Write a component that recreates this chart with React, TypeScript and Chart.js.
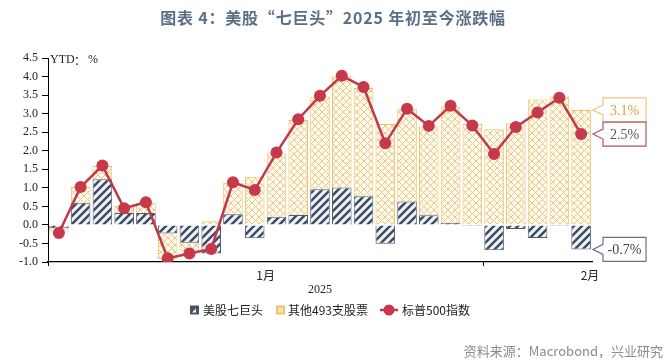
import React, { useEffect, useRef } from 'react';
import { Chart, registerables } from 'chart.js';

Chart.register(...registerables);

// Trading days (2025-01-02 … 2025-02-07)
const categories = [
  '2025-01-02', '2025-01-03', '2025-01-06', '2025-01-07', '2025-01-08', '2025-01-10',
  '2025-01-13', '2025-01-14', '2025-01-15', '2025-01-16', '2025-01-17', '2025-01-21',
  '2025-01-22', '2025-01-23', '2025-01-24', '2025-01-27', '2025-01-28', '2025-01-29',
  '2025-01-30', '2025-01-31', '2025-02-03', '2025-02-04', '2025-02-05', '2025-02-06',
  '2025-02-07',
];

const mag7 = [
  -0.09, 0.6, 1.23, 0.32, 0.32, -0.23, -0.48, -0.77, 0.29, -0.36, 0.22, 0.27, 0.96,
  1.01, 0.77, -0.51, 0.63, 0.26, 0.05, -0.03, -0.68, -0.11, -0.35, -0.03, -0.66,
];

const others = [
  -0.09, 0.42, 0.36, 0.19, 0.28, -0.7, -0.22, 0.1, 0.85, 1.3, 1.71, 2.56, 2.5, 3.0,
  2.92, 2.72, 2.5, 2.39, 3.14, 2.72, 2.58, 2.74, 3.38, 3.46, 3.1,
];

const sp500 = [
  -0.22, 1.02, 1.6, 0.45, 0.61, -0.9, -0.77, -0.65, 1.15, 0.94, 1.95, 2.85, 3.48, 4.02,
  3.72, 2.2, 3.13, 2.67, 3.21, 2.68, 1.91, 2.64, 3.03, 3.43, 2.45,
];

const seriesNames = ['美股七巨头', '其他493支股票', '标普500指数'];
const monthLabels = ['1月', '2月'];
const monthStartIdx = [0, 20];
const yearLabel = '2025';
const yMin = -1.0;
const yMax = 4.5;
const yStep = 0.5;
const calloutTexts = ['3.1%', '2.5%', '-0.7%'];

const TITLE = '图表 4：美股“七巨头”2025 年初至今涨跌幅';
const SOURCE = '资料来源：Macrobond，兴业研究';
const CJK = '"Noto Sans CJK SC", "Noto Sans", sans-serif';
const SERIF = '"Liberation Serif", "DejaVu Serif", serif';

function makeHatch(ctx: CanvasRenderingContext2D) {
  const s = 8;
  const c = document.createElement('canvas');
  c.width = s;
  c.height = s;
  const g = c.getContext('2d')!;
  g.fillStyle = '#eef3f9';
  g.fillRect(0, 0, s, s);
  g.strokeStyle = '#3b4a5f';
  g.lineWidth = 2.4;
  g.beginPath();
  g.moveTo(-2, s + 2);
  g.lineTo(s + 2, -2);
  g.moveTo(-2, 2);
  g.lineTo(2, -2);
  g.moveTo(s - 2, s + 2);
  g.lineTo(s + 2, s - 2);
  g.stroke();
  return ctx.createPattern(c, 'repeat')!;
}

function makeCross(ctx: CanvasRenderingContext2D) {
  const s = 7;
  const c = document.createElement('canvas');
  c.width = s;
  c.height = s;
  const g = c.getContext('2d')!;
  g.fillStyle = '#fffaf0';
  g.fillRect(0, 0, s, s);
  g.strokeStyle = '#eec67c';
  g.lineWidth = 1;
  g.beginPath();
  g.moveTo(0, 0);
  g.lineTo(s, s);
  g.moveTo(s, 0);
  g.lineTo(0, s);
  g.stroke();
  return ctx.createPattern(c, 'repeat')!;
}

function callout(
  ctx: CanvasRenderingContext2D,
  xTip: number,
  y: number,
  text: string,
  border: string,
  color: string,
) {
  const bx = xTip + 10;
  const bw = 43;
  const bh = 24;
  ctx.save();
  ctx.beginPath();
  ctx.moveTo(bx, y - bh / 2);
  ctx.lineTo(bx + bw, y - bh / 2);
  ctx.lineTo(bx + bw, y + bh / 2);
  ctx.lineTo(bx, y + bh / 2);
  ctx.lineTo(bx, y + 5);
  ctx.lineTo(xTip, y);
  ctx.lineTo(bx, y - 5);
  ctx.closePath();
  ctx.fillStyle = '#ffffff';
  ctx.fill();
  ctx.strokeStyle = border;
  ctx.lineWidth = 1.2;
  ctx.stroke();
  ctx.fillStyle = color;
  ctx.font = `14px ${SERIF}`;
  ctx.textAlign = 'center';
  ctx.textBaseline = 'middle';
  ctx.fillText(text, bx + bw / 2, y + 1);
  ctx.restore();
}

const decorPlugin = {
  id: 'decor',
  afterDraw(chart: any) {
    const ctx: CanvasRenderingContext2D = chart.ctx;
    const area = chart.chartArea;
    const xs = chart.scales.x;
    const ys = chart.scales.y;
    ctx.save();

    // title
    ctx.fillStyle = '#5b6f87';
    ctx.font = `bold 16px ${CJK}`;
    ctx.textAlign = 'center';
    ctx.textBaseline = 'middle';
    (ctx as any).letterSpacing = '0.8px';
    ctx.fillText(TITLE, 333, 18);
    (ctx as any).letterSpacing = '0px';

    // y unit
    ctx.fillStyle = '#222';
    ctx.textAlign = 'left';
    ctx.font = `12px ${SERIF}`;
    ctx.fillText('YTD', area.left + 2, area.top + 2);
    ctx.font = `12px ${CJK}`;
    ctx.fillText('：', area.left + 26, area.top + 2);
    ctx.font = `12px ${SERIF}`;
    ctx.fillText('%', area.left + 40, area.top + 2);

    // month labels
    ctx.font = `12px ${CJK}`;
    ctx.textAlign = 'center';
    const janCenter = (xs.getPixelForValue(monthStartIdx[0]) + xs.getPixelForValue(monthStartIdx[1] - 1)) / 2;
    ctx.fillText(monthLabels[0], janCenter, area.bottom + 13);
    ctx.fillText(monthLabels[1], area.right - 2, area.bottom + 13);

    // year
    ctx.font = `12px ${SERIF}`;
    ctx.fillText(yearLabel, (area.left + area.right) / 2, area.bottom + 28);

    // legend
    const ly = 310;
    ctx.textAlign = 'left';
    ctx.font = `12px ${CJK}`;
    // item 1
    ctx.fillStyle = '#4a5468';
    ctx.fillRect(190, ly - 4.5, 9, 9);
    ctx.fillStyle = '#ffffff';
    ctx.beginPath();
    ctx.moveTo(192, ly + 2.5);
    ctx.lineTo(196, ly - 1.5);
    ctx.lineTo(196, ly + 2.5);
    ctx.closePath();
    ctx.fill();
    ctx.fillStyle = '#222';
    ctx.fillText(seriesNames[0], 203, ly);
    // item 2
    ctx.fillStyle = '#f2c36c';
    ctx.fillRect(276, ly - 4.5, 9, 9);
    ctx.fillStyle = '#fbe3b0';
    ctx.fillRect(278, ly - 2.5, 5, 5);
    ctx.fillStyle = '#222';
    ctx.fillText(seriesNames[1], 288, ly);
    // item 3
    ctx.strokeStyle = '#c0394a';
    ctx.lineWidth = 2.5;
    ctx.beginPath();
    ctx.moveTo(380, ly);
    ctx.lineTo(398, ly);
    ctx.stroke();
    ctx.fillStyle = '#c8384b';
    ctx.beginPath();
    ctx.arc(389, ly, 5.5, 0, Math.PI * 2);
    ctx.fill();
    ctx.fillStyle = '#222';
    ctx.fillText(seriesNames[2], 402, ly);

    // source
    ctx.fillStyle = '#8c8c8c';
    ctx.font = `13px ${CJK}`;
    ctx.textAlign = 'right';
    ctx.fillText(SOURCE, 663, 351);

    // callouts
    const last = categories.length - 1;
    const xTip = area.right + 1;
    callout(ctx, xTip, ys.getPixelForValue(others[last]), calloutTexts[0], '#efc77c', '#d6a445');
    callout(ctx, xTip, ys.getPixelForValue(sp500[last]), calloutTexts[1], '#b0566a', '#555555');
    callout(ctx, xTip, ys.getPixelForValue(mag7[last]), calloutTexts[2], '#6b7282', '#444444');

    ctx.restore();
  },
};

export default function App() {
  const ref = useRef<HTMLCanvasElement>(null);

  useEffect(() => {
    const canvas = ref.current!;
    const ctx = canvas.getContext('2d')!;
    const hatch = makeHatch(ctx);
    const cross = makeCross(ctx);

    const chart = new Chart(canvas, {
      type: 'bar',
      data: {
        labels: categories,
        datasets: [
          {
            type: 'line',
            label: seriesNames[2],
            data: sp500,
            borderColor: '#c0394a',
            borderWidth: 2.5,
            pointRadius: 6,
            pointBackgroundColor: '#c8384b',
            pointBorderColor: '#c8384b',
            pointBorderWidth: 0,
            tension: 0,
            order: 0,
            stack: 'line',
          } as any,
          {
            label: seriesNames[0],
            data: mag7,
            backgroundColor: hatch,
            borderColor: '#4f5a6b',
            borderWidth: 1,
            stack: 'bars',
            order: 1,
            barPercentage: 0.9,
            categoryPercentage: 1.0,
          },
          {
            label: seriesNames[1],
            data: others,
            backgroundColor: cross,
            borderColor: '#efc26a',
            borderWidth: 1,
            stack: 'bars',
            order: 1,
            barPercentage: 0.9,
            categoryPercentage: 1.0,
          },
        ],
      },
      options: {
        responsive: false,
        animation: false,
        layout: { padding: { left: 0, right: 79, top: 58, bottom: 98 } },
        plugins: {
          legend: { display: false },
          tooltip: { enabled: false },
          title: { display: false },
        },
        scales: {
          x: {
            stacked: true,
            offset: true,
            grid: {
              display: true,
              offset: true,
              drawOnChartArea: false,
              drawTicks: true,
              tickLength: 4,
              color: (c: any) => (monthStartIdx.includes(c.index) ? '#000' : 'rgba(0,0,0,0)'),
            },
            border: { display: true, color: '#000', width: 1.2 },
            ticks: { display: false },
            afterFit: (s: any) => {
              s.height = 0;
            },
          },
          y: {
            stacked: true,
            min: yMin,
            max: yMax,
            grid: {
              display: true,
              drawOnChartArea: false,
              drawTicks: true,
              tickLength: 6,
              color: '#000',
            },
            border: { display: true, color: '#000', width: 1 },
            ticks: {
              stepSize: yStep,
              padding: 4,
              color: '#222',
              font: { family: SERIF, size: 12 },
              callback: (v: any) => Number(v).toFixed(1),
            },
            afterFit: (s: any) => {
              s.width = 48;
            },
          },
        },
      },
      plugins: [decorPlugin],
    });

    return () => chart.destroy();
  }, []);

  return (
    <div style={{ position: 'absolute', left: 0, top: 0, width: 671, height: 360, background: '#fff' }}>
      <canvas ref={ref} width={671} height={360} style={{ width: 671, height: 360, display: 'block' }} />
    </div>
  );
}
